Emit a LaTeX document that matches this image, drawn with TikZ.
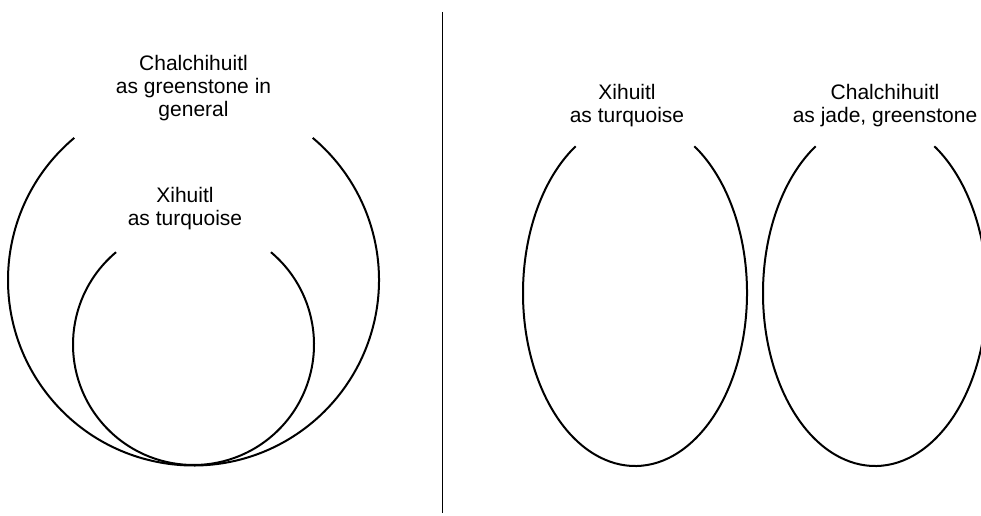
\documentclass[tikz,border=0pt]{standalone}
\usepackage{fontspec}
\setmainfont{Liberation Sans}
\begin{document}
\begin{tikzpicture}[x=1pt,y=1pt,
  curve/.style={line width=2pt,black},
  label/.style={align=center,inner sep=0pt,font=\fontsize{21}{23}\selectfont}]
\useasboundingbox (0,0) rectangle (981,515);
\clip (0,0) rectangle (981,515);
% centres
\coordinate (bigc) at (193.5,235);
\coordinate (smallc) at (193.5,170.5);
\coordinate (ella) at (635,222);
\coordinate (ellb) at (875,222);
% divider
\coordinate (divtop) at (442.5,503);
\coordinate (divbot) at (442.5,2);
\draw[line width=1.8pt] (divtop) -- (divbot);
% left: greenstone circle with turquoise circle inside
\draw[curve] ([shift={(130:185.5pt)}]bigc) arc[start angle=130,end angle=410,radius=185.5pt];
\draw[curve] ([shift={(130:120.5pt)}]smallc) arc[start angle=130,end angle=410,radius=120.5pt];
% right: two separate ellipses
\draw[curve] ([shift={(122:112pt and 173pt)}]ella) arc[start angle=122,end angle=418,x radius=112pt,y radius=173pt];
\draw[curve] ([shift={(122:112pt and 173pt)}]ellb) arc[start angle=122,end angle=418,x radius=112pt,y radius=173pt];
% texts
\node[label] (tgen) at (193.5,427) {Chalchihuitl\\as greenstone in\\general};
\node[label] (tturqa) at (185,306.7) {Xihuitl\\as turquoise};
\node[label] (tturqb) at (627,409.3) {Xihuitl\\as turquoise};
\node[label] (tjade) at (885,409.3) {Chalchihuitl\\as jade, greenstone};
\end{tikzpicture}
\end{document}
